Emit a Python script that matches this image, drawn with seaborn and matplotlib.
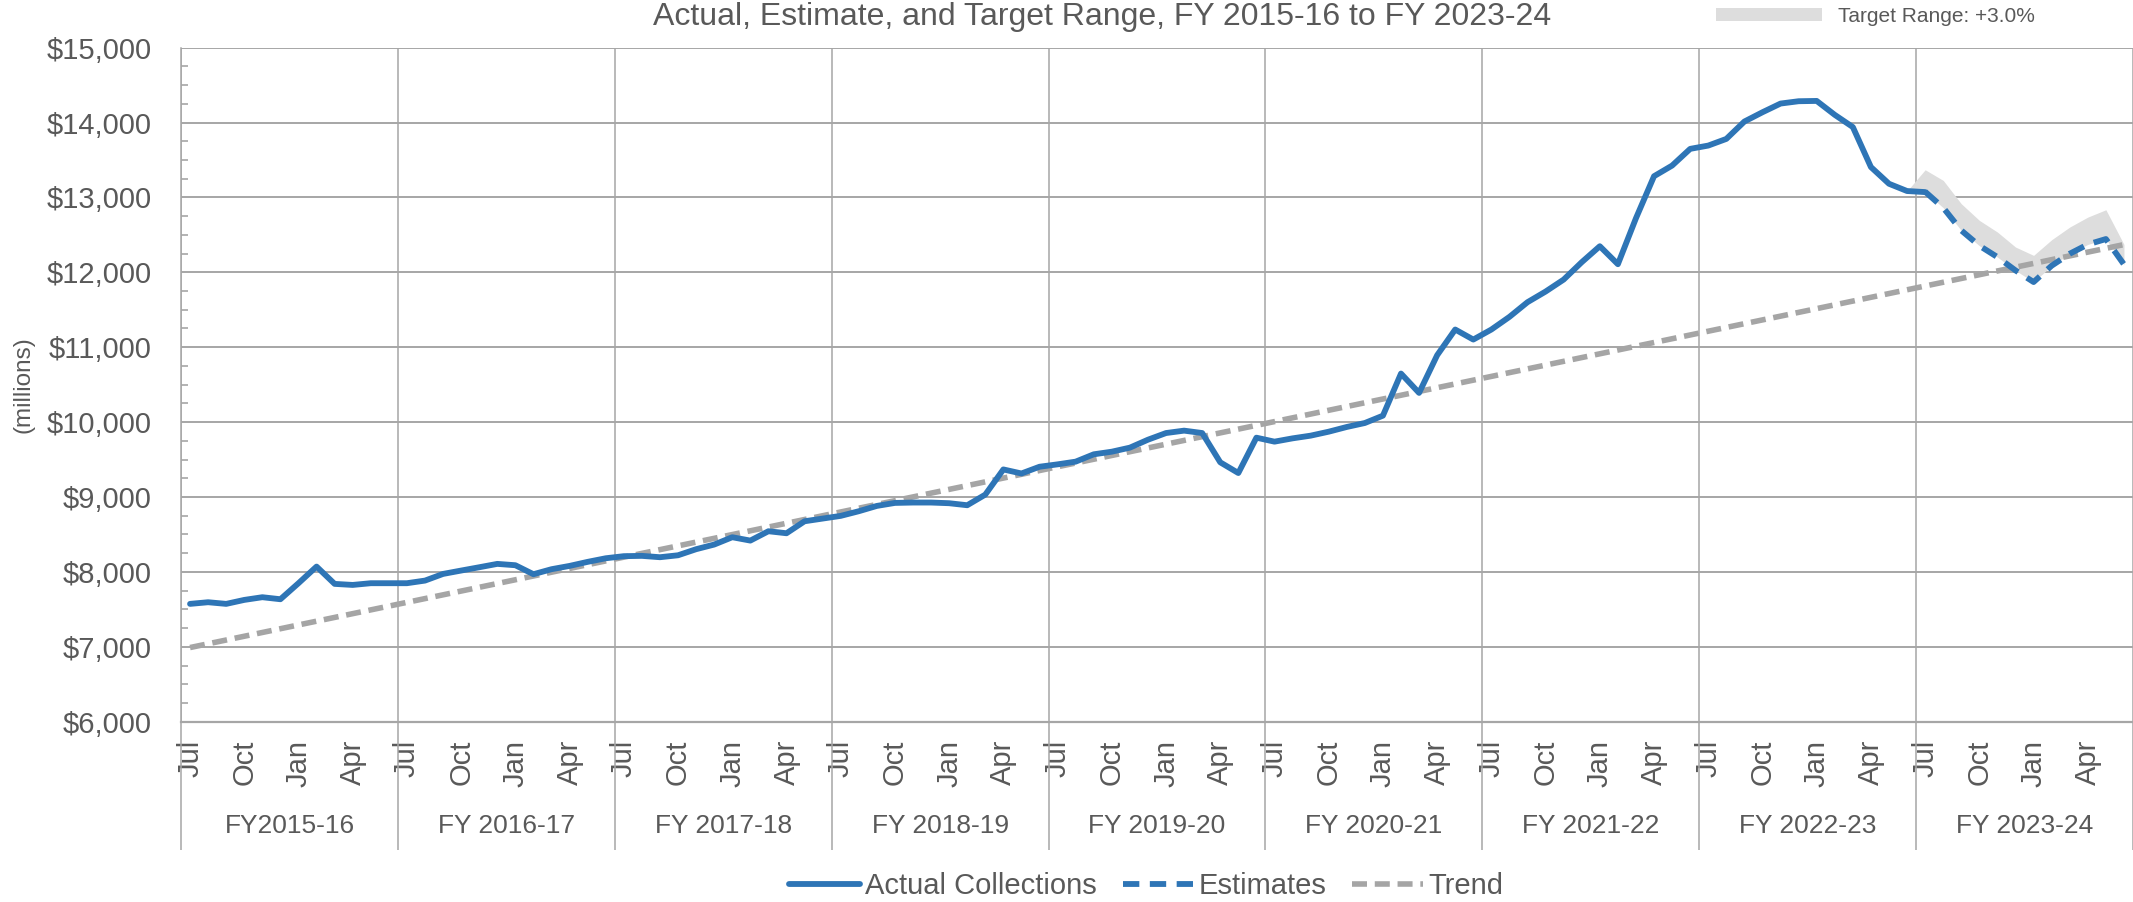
import numpy as np
import pandas as pd
import matplotlib
matplotlib.use("Agg")
import matplotlib.pyplot as plt
import matplotlib.transforms as mtransforms
from matplotlib.ticker import FixedLocator, MultipleLocator, StrMethodFormatter
import seaborn as sns

# monthly collections, Jul 2015 .. Jul 2023 ($ millions)
actual = [7573, 7595, 7573, 7626, 7662, 7635, 7849, 8071, 7840, 7826, 7849, 7849,
          7849, 7884, 7973, 8018, 8062, 8107, 8089, 7969, 8036, 8080, 8134, 8182,
          8210, 8214, 8196, 8222, 8303, 8365, 8463, 8418, 8543, 8516, 8676, 8712,
          8748, 8810, 8881, 8921, 8926, 8926, 8917, 8890, 9032, 9368, 9314, 9404,
          9436, 9472, 9570, 9605, 9659, 9765, 9854, 9886, 9854, 9463, 9320, 9792,
          9739, 9783, 9819, 9872, 9935, 9988, 10086, 10648, 10390, 10893, 11236, 11102,
          11236, 11405, 11601, 11743, 11903, 12135, 12348, 12108, 12722, 13283, 13425, 13648,
          13692, 13781, 14013, 14137, 14253, 14284, 14288, 14102, 13939, 13405, 13182, 13085,
          13071]
# estimates, Jul 2023 .. Jun 2024
estimates = [13076, 12862, 12559, 12355, 12203, 12025, 11870, 12088, 12248, 12372, 12444, 12105]
# upper edge of the +3.0% target range, Jun 2023 .. Jun 2024
target_upper = [13085, 13369, 13227, 12915, 12693, 12537, 12337, 12226, 12435, 12604, 12737, 12835, 12372]
# linear trend, first and last month
trend_start, trend_end = 6990, 12370

fiscal_years = ["FY2015-16", "FY 2016-17", "FY 2017-18", "FY 2018-19", "FY 2019-20",
                "FY 2020-21", "FY 2021-22", "FY 2022-23", "FY 2023-24"]
month_labels = ["Jul", "Oct", "Jan", "Apr"]

n_months = 12 * len(fiscal_years)
actual_x = np.arange(len(actual))
est_x = np.arange(len(actual) - 1, len(actual) - 1 + len(estimates))
band_x = np.arange(est_x[0] - 1, est_x[-1] + 1)
band_lower = [actual[-2]] + estimates

blue = "#2E75B6"
trend_gray = "#A5A5A5"
grid_gray = "#A6A6A6"
text_gray = "#595959"

sns.set_style("white")
plt.rcParams["font.family"] = ["Liberation Sans", "DejaVu Sans"]

fig = plt.figure(figsize=(21.33, 9.02), dpi=100)
ax = fig.add_axes([181 / 2133, 1 - 721.7 / 902, 1 - 181 / 2133, (721.7 - 47.6) / 902])

ax.fill_between(band_x, band_lower, target_upper, color="#DDDDDD", lw=0,
                label="Target Range: +3.0%", zorder=1)
sns.lineplot(x=actual_x, y=actual, ax=ax, color=blue, linewidth=4.2,
             label="Actual Collections", legend=False, zorder=3)
sns.lineplot(x=est_x, y=estimates, ax=ax, color=blue, linewidth=4.2,
             linestyle=(0, (2.8, 1.8)), label="Estimates", legend=False, zorder=3)
sns.lineplot(x=[0, n_months - 1], y=[trend_start, trend_end], ax=ax, color=trend_gray,
             linewidth=4.0, linestyle=(0, (2.7, 1.4)), label="Trend", legend=False, zorder=2)

ax.set_xlim(-0.5, n_months - 0.5)
ax.set_ylim(6000, 15000)
ax.set_xlabel("")
ax.set_ylabel("")

# y axis
ax.yaxis.set_major_locator(MultipleLocator(1000))
ax.yaxis.set_minor_locator(MultipleLocator(250))
ax.yaxis.set_major_formatter(StrMethodFormatter("${x:,.0f}"))
ax.tick_params(axis="y", which="major", direction="out", length=8, width=1.2,
               color=grid_gray, pad=13, labelsize=21, labelcolor=text_gray)
ax.tick_params(axis="y", which="minor", direction="in", length=5, width=1.2,
               color=grid_gray, left=True)

# x axis: months, then fiscal years
month_pos = [12 * k + m for k in range(len(fiscal_years)) for m in (0, 3, 6, 9)]
ax.xaxis.set_major_locator(FixedLocator(month_pos))
ax.set_xticklabels(month_labels * len(fiscal_years), rotation=90)
ax.tick_params(axis="x", which="major", length=0, pad=13, labelsize=21,
               labelcolor=text_gray)
ax.xaxis.set_minor_locator(FixedLocator(np.arange(-0.5, n_months, 12)))
ax.tick_params(axis="x", which="minor", direction="out", length=92, width=1.1,
               color=grid_gray, bottom=True)

trans = mtransforms.blended_transform_factory(ax.transData, ax.transAxes)
for k, fy in enumerate(fiscal_years):
    ax.text(12 * k + 5.5, -0.155, fy, transform=trans, ha="center", va="center",
            fontsize=19, color=text_gray)

ax.grid(axis="y", which="major", color=grid_gray, linewidth=1.4)
ax.grid(axis="x", which="minor", color=grid_gray, linewidth=1.1)
ax.set_axisbelow(True)
for side in ["top", "right"]:
    ax.spines[side].set_visible(False)
ax.spines["left"].set_color(grid_gray)
ax.spines["left"].set_linewidth(1.1)
ax.spines["bottom"].set_color(grid_gray)
ax.spines["bottom"].set_linewidth(1.6)

fig.text(23 / 2133, 1 - 385 / 902, "(millions)", rotation=90, ha="center", va="center",
         fontsize=17.5, color=text_gray)
fig.text(1102 / 2133, 1 - 25 / 902, "Actual, Estimate, and Target Range, FY 2015-16 to FY 2023-24",
         ha="center", va="baseline", fontsize=23, color=text_gray)

handles, labels = ax.get_legend_handles_labels()
lookup = dict(zip(labels, handles))

top_leg = fig.legend([lookup["Target Range: +3.0%"]], ["Target Range: +3.0%"],
                     loc="center left", bbox_to_anchor=(1716 / 2133, 1 - 16.5 / 902),
                     frameon=False, borderpad=0, borderaxespad=0, fontsize=15,
                     handlelength=5.1, handleheight=0.63, handletextpad=0.75,
                     labelcolor=text_gray)

bottom_names = ["Actual Collections", "Estimates", "Trend"]
fig.legend([lookup[n] for n in bottom_names], bottom_names, loc="center",
           bbox_to_anchor=(1146 / 2133, 1 - 886 / 902), ncol=3, frameon=False,
           borderpad=0, borderaxespad=0, fontsize=21, handlelength=2.43,
           handletextpad=0.17, columnspacing=0.9, labelcolor=text_gray)

fig.savefig("out.png", dpi=100)
